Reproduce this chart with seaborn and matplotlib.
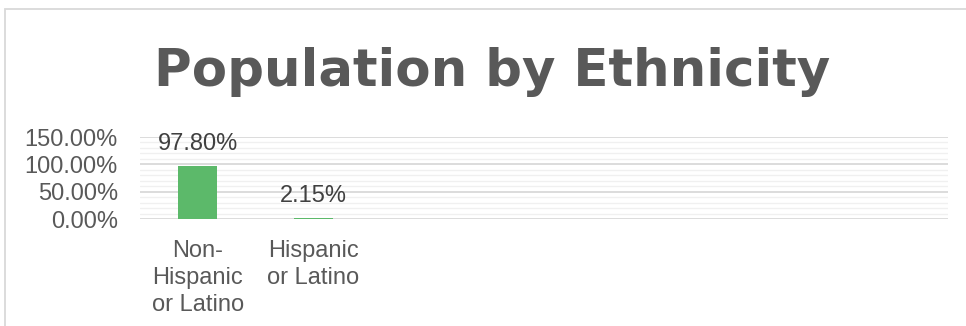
import matplotlib
matplotlib.use("Agg")
import matplotlib.pyplot as plt
import matplotlib.ticker as mticker
from matplotlib.patches import Rectangle
import seaborn as sns
import pandas as pd

# data
categories = ["Non-\nHispanic\nor Latino", "Hispanic\nor Latino"]
shares = [0.978, 0.0215]
bar_labels = ["97.80%", "2.15%"]
y_ticks = [0.0, 0.5, 1.0, 1.5]

df = pd.DataFrame({"group": categories, "share": shares})

sns.set_style("white")
plt.rcParams["font.family"] = ["Liberation Sans", "DejaVu Sans"]
grey = "#595959"

fig = plt.figure(figsize=(9.66, 3.26), dpi=100)
ax = fig.add_axes([140 / 966, 107 / 326, 808 / 966, 82 / 326])

sns.barplot(data=df, x="group", y="share", color="#5cb96a", width=0.34,
            saturation=1, linewidth=0, ax=ax, zorder=3)

# room for the empty category slots on the right, like the original sheet
ax.set_xlim(-0.5, 6.5)
ax.set_ylim(0, 1.5)
ax.set_yticks(y_ticks)
ax.yaxis.set_minor_locator(mticker.MultipleLocator(0.1))
ax.yaxis.set_major_formatter(mticker.FuncFormatter(lambda v, p: f"{v * 100:.2f}%"))
ax.grid(axis="y", which="minor", color="#f0f0f0", lw=1.0, zorder=0)
ax.grid(axis="y", which="major", color="#d9d9d9", lw=1.3, zorder=1)
ax.set_axisbelow(True)
for s in ax.spines.values():
    s.set_visible(False)
ax.tick_params(axis="both", which="both", length=0, labelsize=17, colors=grey)
ax.tick_params(axis="y", pad=16)
ax.tick_params(axis="x", pad=15)
ax.set_xlabel("")
ax.set_ylabel("")
for t in ax.get_xticklabels():
    t.set_linespacing(1.3)

# value labels above bars
for i, (v, lab) in enumerate(zip(shares, bar_labels)):
    ax.annotate(lab, (i, v), xytext=(0, 22), textcoords="offset pixels",
                ha="center", va="center", fontsize=17, color="#404040",
                annotation_clip=False)

# chart title
fig.text(492 / 966, 1 - 72 / 326, "Population by Ethnicity", ha="center", va="center",
         fontsize=37, fontweight="bold", color=grey, family="DejaVu Sans")

# chart area border (cropped at the right/bottom in the original)
fig.patches.append(Rectangle((5 / 966, -0.2), 1.2, 1 - 9 / 326 + 0.2,
                             transform=fig.transFigure, fill=False,
                             ec="#d9d9d9", lw=1.3))

fig.savefig("out.png", dpi=100, facecolor="white")
